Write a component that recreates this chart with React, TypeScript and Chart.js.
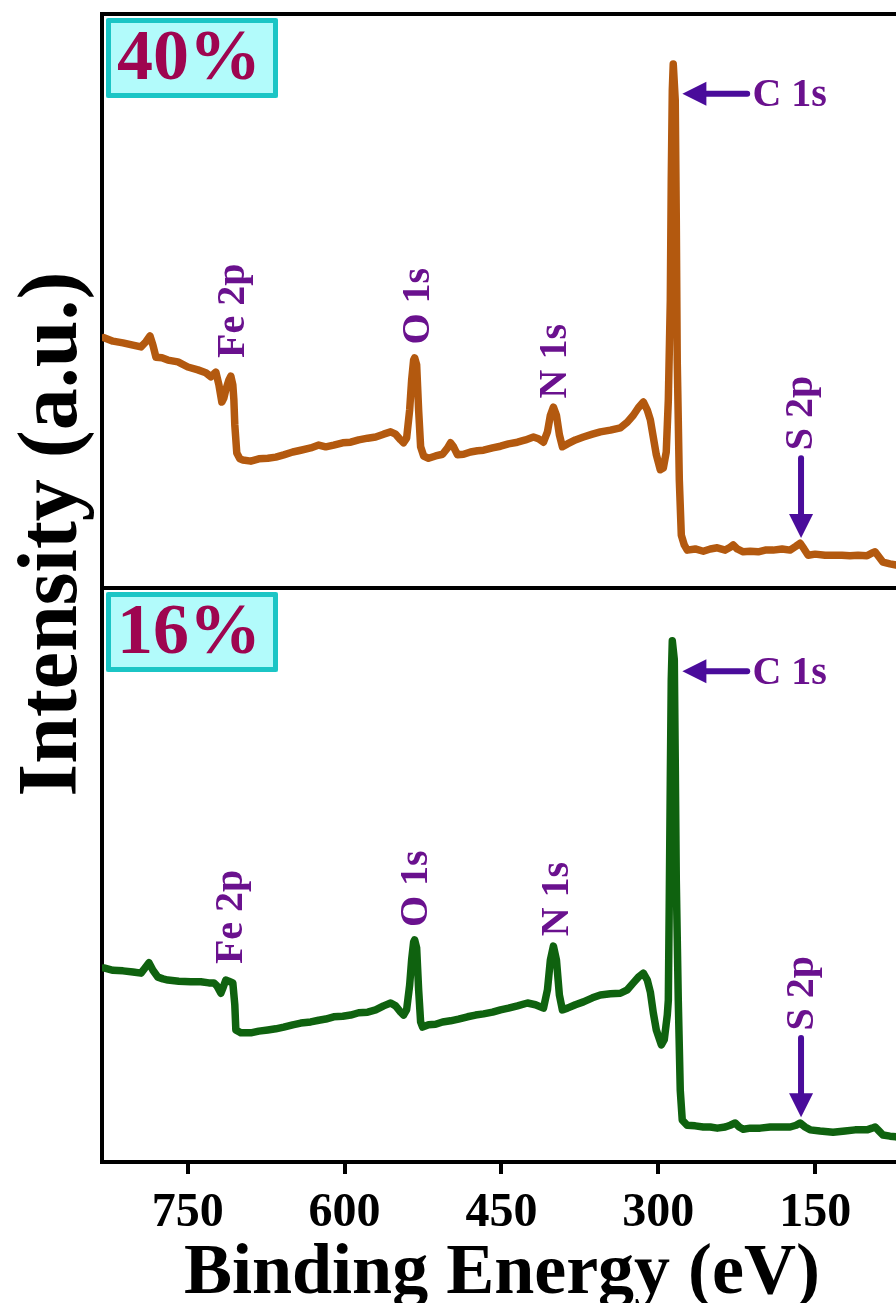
import React, { useEffect, useRef } from 'react';
import { Chart, registerables } from 'chart.js';

Chart.register(...registerables);

// XPS survey spectra: binding energy (eV) and intensity (a.u., relative to its own panel)
const energy40 = [
  830, 821.5, 812, 802.4, 794.7, 790, 786.1, 783.3, 780.4, 774.7,
  769, 759.4, 749.9, 740.3, 732.7, 727.9, 725, 723.1, 720.2, 717.4,
  715.5, 713.6, 710.7, 708.8, 706.9, 705.9, 705, 703.1, 700.2, 697.3,
  689.7, 682, 673.4, 665.8, 658.2, 649.6, 641.9, 632.4, 624.7, 618,
  610.4, 601.8, 594.2, 586.5, 577.9, 570.3, 562.7, 556, 551.2, 546.4,
  543.6, 540.7, 537.8, 535.9, 534, 533, 531.1, 529.2, 527.3, 524.4,
  519.7, 513, 506.3, 501.5, 498.7, 495.8, 492, 486.2, 479.6, 472.9,
  467.1, 458.5, 450.9, 443.3, 434.7, 427, 419.4, 414.6, 409.8, 406,
  403.2, 400.3, 397.4, 394.6, 391.7, 386.9, 379.3, 371.6, 363, 355.4,
  345.8, 336.3, 329.6, 323.9, 319.1, 314.3, 310.5, 307.6, 304.8, 301.9,
  298.1, 295.2, 292.4, 290.4, 288.5, 287.6, 286.6, 285.7, 283.8, 282.8,
  281.9, 279.9, 278, 275.2, 272.3, 264.7, 257, 250.3, 243.6, 236,
  231.2, 228.4, 224.5, 218.8, 212.1, 204.5, 197.8, 190.2, 181.6, 174,
  168.2, 164.4, 160.6, 156.7, 150, 140.5, 132.9, 124.3, 116.7, 109,
  100.4, 95.6, 92.7, 88.9, 85.1, 78.4, 72.7, 64.1,
];
const intensity40 = [
  43.6, 43.0, 42.7, 42.3, 42.0, 42.9, 43.9, 42.3, 40.2, 40.1,
  39.7, 39.4, 38.5, 38.0, 37.5, 36.8, 37.3, 37.6, 35.4, 32.4,
  33.1, 34.5, 36.2, 36.9, 35.4, 32.8, 28.4, 23.5, 22.5, 22.3,
  22.1, 22.5, 22.6, 22.8, 23.2, 23.7, 24.0, 24.4, 24.9, 24.6,
  24.9, 25.3, 25.4, 25.8, 26.1, 26.3, 26.8, 27.2, 26.8, 25.8,
  25.3, 26.1, 31.0, 36.2, 39.7, 40.1, 38.9, 31.0, 24.6, 23.0,
  22.6, 23.0, 23.3, 24.4, 25.3, 24.6, 23.2, 23.3, 23.7, 23.9,
  24.0, 24.4, 24.7, 25.1, 25.4, 25.8, 26.3, 26.0, 25.4, 27.2,
  30.1, 31.5, 30.1, 26.7, 24.6, 25.1, 25.8, 26.3, 26.8, 27.2,
  27.5, 27.9, 28.9, 30.1, 31.4, 32.4, 31.0, 29.3, 26.3, 23.2,
  20.6, 20.9, 23.7, 32.8, 50.2, 71.1, 86.8, 91.3, 85.0, 64.1,
  39.7, 18.8, 9.2, 7.5, 6.6, 6.8, 6.4, 6.8, 7.0, 6.6,
  7.1, 7.5, 6.8, 6.3, 6.4, 6.3, 6.6, 6.6, 6.8, 6.6,
  7.3, 7.8, 6.8, 5.7, 5.9, 5.7, 5.7, 5.7, 5.6, 5.7,
  5.6, 6.1, 6.3, 5.4, 4.5, 4.2, 4.0, 3.5,
];

const energy16 = [
  830.1, 821.5, 811.9, 802.4, 794.7, 790.9, 787.1, 783.3, 778.5, 773.7,
  769, 758.5, 747, 737.5, 729.8, 725, 722.2, 718.3, 716.4, 713.6,
  710.7, 706.9, 705, 704, 699.3, 689.7, 682, 673.4, 665.8, 658.2,
  649.6, 641.9, 632.4, 624.7, 618, 610.4, 601.8, 594.2, 586.5, 577.9,
  570.3, 562.7, 556, 551.2, 546.4, 543.6, 540.7, 537.8, 535.9, 534,
  533, 531.1, 529.2, 527.3, 525.4, 519.7, 513, 506.3, 498.7, 491.1,
  482.4, 474.8, 467.1, 458.5, 450.9, 443.3, 434.7, 425.1, 417.5, 409.8,
  406, 403.2, 400.3, 397.4, 394.6, 391.7, 386.9, 379.3, 371.6, 363,
  355.4, 345.8, 336.3, 329.6, 323.9, 319.1, 314.3, 310.5, 307.6, 304.8,
  301.9, 297.1, 294.3, 291.4, 290.4, 289.5, 288.5, 287.6, 286.6, 284.7,
  283.8, 282.8, 280.9, 279, 277.1, 272.3, 264.7, 257, 250.3, 243.6,
  236, 231.2, 226.5, 222.6, 218.8, 212.1, 202.6, 193, 180.6, 173.9,
  168.2, 164.4, 159.6, 154.8, 145.3, 132.9, 121.4, 111.8, 100.4, 95.6,
  92.7, 88.9, 85.1, 78.4, 72.7, 64.1,
];
const intensity16 = [
  33.8, 33.4, 33.3, 33.1, 32.9, 33.8, 34.7, 33.4, 32.2, 31.9,
  31.7, 31.5, 31.4, 31.4, 31.2, 31.2, 30.7, 29.4, 30.3, 31.7,
  31.5, 31.2, 27.4, 23.0, 22.5, 22.5, 22.8, 23.0, 23.2, 23.5,
  23.9, 24.2, 24.4, 24.7, 24.9, 25.3, 25.4, 25.6, 26.0, 26.1,
  26.5, 27.2, 27.7, 27.2, 26.1, 25.6, 26.5, 30.8, 35.2, 38.3,
  38.7, 37.3, 30.0, 24.4, 23.5, 23.9, 24.0, 24.4, 24.6, 24.9,
  25.3, 25.6, 25.8, 26.1, 26.5, 26.8, 27.2, 27.7, 27.4, 26.8,
  30.0, 35.2, 37.6, 35.2, 29.1, 26.5, 26.8, 27.4, 27.9, 28.6,
  29.1, 29.3, 29.4, 30.0, 31.2, 32.2, 32.9, 31.7, 29.6, 26.0,
  23.0, 20.4, 21.3, 25.6, 28.2, 45.6, 66.6, 84.0, 90.8, 87.5,
  70.0, 49.1, 28.2, 12.5, 7.3, 6.4, 6.3, 6.1, 6.1, 5.9,
  6.1, 6.4, 6.8, 6.1, 5.7, 5.9, 5.9, 6.1, 6.1, 6.1,
  6.4, 6.8, 6.1, 5.6, 5.4, 5.2, 5.4, 5.6, 5.6, 5.9,
  6.1, 5.4, 4.7, 4.5, 4.4, 4.0,
];

const xTickValues = [150, 300, 450, 600, 750];
const sampleNames = ['40%', '16%'];

// Peak assignments: panel 0 = upper spectrum, panel 1 = lower spectrum
const peakNames = ['Fe 2p', 'O 1s', 'N 1s', 'S 2p'];
const peakEnergies = [[706, 529, 398, 162.5], [708, 531, 396.5, 161.5]];
const peakLevels = [[48.3, 49.1, 39.5, 30.5], [42.7, 47.6, 45.8, 29.4]];
const c1sLevels = [86.1, 85.5];
const c1sArrowEnergies = [215, 277]; // tail, tip
const c1sTextEnergy = 210;
const s2pArrowEnergy = 163.5;
const s2pArrowLevels = [[22.6, 8.7], [21.6, 7.8]]; // tail, tip

const PANEL_SPAN = 100;
const FONT = '"Liberation Serif", "Times New Roman", Times, serif';
const ORANGE = '#b3590f';
const GREEN = '#0f620f';
const LABEL_PURPLE = '#6a118e';
const ARROW_PURPLE = '#4a0c9b';

function drawHead(ctx: CanvasRenderingContext2D, tx: number, ty: number, dx: number, dy: number, len: number, half: number) {
  const bx = tx - dx * len;
  const by = ty - dy * len;
  const px = -dy;
  const py = dx;
  ctx.beginPath();
  ctx.moveTo(tx, ty);
  ctx.lineTo(bx + px * half, by + py * half);
  ctx.lineTo(bx - px * half, by - py * half);
  ctx.closePath();
  ctx.fill();
}

const decorations = {
  id: 'decorations',
  afterDatasetsDraw(chart: any) {
    const { ctx, chartArea } = chart;
    const xs = chart.scales.x;
    const ys = chart.scales.y;
    const yOf = (panel: number, v: number) => ys.getPixelForValue(v + (panel === 0 ? PANEL_SPAN : 0));
    ctx.save();

    // sample tags in the upper-left corner of each panel
    sampleNames.forEach((name, i) => {
      const top = ys.getPixelForValue(i === 0 ? 2 * PANEL_SPAN : PANEL_SPAN);
      const bx = chartArea.left + 4;
      const by = top + 4;
      const bw = 172;
      const bh = 80;
      ctx.fillStyle = '#b2fbfb';
      ctx.fillRect(bx, by, bw, bh);
      ctx.strokeStyle = '#1bc5c5';
      ctx.lineWidth = 5;
      ctx.lineJoin = 'round';
      ctx.strokeRect(bx + 2.5, by + 2.5, bw - 5, bh - 5);
      ctx.fillStyle = '#9e0550';
      ctx.font = `bold 72px ${FONT}`;
      ctx.textAlign = 'center';
      ctx.textBaseline = 'middle';
      ctx.fillText(name, bx + bw / 2 - 3, by + bh / 2 + 2);
    });

    // vertical peak labels
    ctx.font = `bold 40px ${FONT}`;
    ctx.fillStyle = LABEL_PURPLE;
    ctx.textAlign = 'center';
    ctx.textBaseline = 'middle';
    peakEnergies.forEach((row, panel) => {
      row.forEach((e, k) => {
        ctx.save();
        ctx.translate(xs.getPixelForValue(e), yOf(panel, peakLevels[panel][k]));
        ctx.rotate(-Math.PI / 2);
        ctx.fillText(peakNames[k], 0, 0);
        ctx.restore();
      });
    });

    // C 1s arrows and labels
    ctx.strokeStyle = ARROW_PURPLE;
    ctx.fillStyle = ARROW_PURPLE;
    ctx.lineWidth = 6;
    ctx.lineCap = 'round';
    c1sLevels.forEach((lv, panel) => {
      const y = yOf(panel, lv);
      const tail = xs.getPixelForValue(c1sArrowEnergies[0]);
      const tip = xs.getPixelForValue(c1sArrowEnergies[1]);
      ctx.beginPath();
      ctx.moveTo(tail, y);
      ctx.lineTo(tip + 20, y);
      ctx.stroke();
      drawHead(ctx, tip, y, -1, 0, 24, 12);
      ctx.save();
      ctx.fillStyle = LABEL_PURPLE;
      ctx.font = `bold 40px ${FONT}`;
      ctx.textAlign = 'left';
      ctx.textBaseline = 'middle';
      ctx.fillText('C 1s', xs.getPixelForValue(c1sTextEnergy), y + 2);
      ctx.restore();
    });

    // S 2p arrows
    s2pArrowLevels.forEach((lv, panel) => {
      const x = xs.getPixelForValue(s2pArrowEnergy);
      const y0 = yOf(panel, lv[0]);
      const y1 = yOf(panel, lv[1]);
      ctx.beginPath();
      ctx.moveTo(x, y0);
      ctx.lineTo(x, y1 - 20);
      ctx.stroke();
      drawHead(ctx, x, y1, 0, 1, 24, 12);
    });

    ctx.restore();
  },
  afterDraw(chart: any) {
    const { ctx } = chart;
    ctx.save();
    ctx.fillStyle = '#000';
    ctx.textAlign = 'center';
    ctx.textBaseline = 'middle';
    ctx.font = `bold 84px ${FONT}`;
    ctx.translate(54, 534);
    ctx.rotate(-Math.PI / 2);
    ctx.fillText('Intensity (a.u.)', 0, 0);
    ctx.restore();

    ctx.save();
    ctx.fillStyle = '#000';
    ctx.textAlign = 'center';
    ctx.textBaseline = 'alphabetic';
    ctx.font = `bold 72px ${FONT}`;
    ctx.fillText('Binding Energy (eV)', 502, 1293);
    ctx.restore();
  },
};

export default function App() {
  const canvasRef = useRef<HTMLCanvasElement>(null);

  useEffect(() => {
    const canvas = canvasRef.current;
    if (!canvas) return;
    const chart = new Chart(canvas, {
      type: 'line',
      data: {
        datasets: [
          {
            label: sampleNames[0],
            data: energy40.map((e, i) => ({ x: e, y: intensity40[i] + PANEL_SPAN })),
            borderColor: ORANGE,
            borderWidth: 7.5,
            pointRadius: 0,
            tension: 0,
            fill: false,
            borderJoinStyle: 'round',
            borderCapStyle: 'round',
          },
          {
            label: sampleNames[1],
            data: energy16.map((e, i) => ({ x: e, y: intensity16[i] })),
            borderColor: GREEN,
            borderWidth: 7.5,
            pointRadius: 0,
            tension: 0,
            fill: false,
            borderJoinStyle: 'round',
            borderCapStyle: 'round',
          },
        ],
      },
      options: {
        responsive: false,
        animation: false,
        devicePixelRatio: 1,
        events: [],
        layout: { padding: { top: 14, right: 28, left: 0, bottom: 0 } },
        plugins: { legend: { display: false }, tooltip: { enabled: false } },
        scales: {
          x: {
            type: 'linear',
            reverse: true,
            min: 0,
            max: 832,
            afterBuildTicks: (s: any) => {
              s.ticks = xTickValues.map((v) => ({ value: v }));
            },
            afterFit: (s: any) => {
              s.height = 141;
            },
            border: { display: true, color: '#000', width: 4 },
            grid: { display: true, drawOnChartArea: false, drawTicks: true, tickLength: 12, lineWidth: 4, color: '#000' },
            ticks: {
              color: '#000',
              font: { family: FONT, size: 48, weight: 'bold' },
              padding: 11,
              maxRotation: 0,
              autoSkip: false,
            },
          },
          y: {
            type: 'linear',
            min: 0,
            max: 2 * PANEL_SPAN,
            afterFit: (s: any) => {
              s.width = 102;
            },
            ticks: { display: false, stepSize: PANEL_SPAN },
            border: { display: true, color: '#000', width: 4 },
            grid: {
              drawTicks: false,
              lineWidth: 4,
              color: (c: any) => (c.tick && c.tick.value > 0 ? '#000' : 'rgba(0,0,0,0)'),
            },
          },
        },
      } as any,
      plugins: [decorations],
    });
    return () => chart.destroy();
  }, []);

  return (
    <div style={{ position: 'fixed', left: 0, top: 0, width: 896, height: 1303, overflow: 'hidden', background: '#fff' }}>
      <canvas ref={canvasRef} width={1000} height={1303} style={{ display: 'block', width: 1000, height: 1303 }} />
    </div>
  );
}
